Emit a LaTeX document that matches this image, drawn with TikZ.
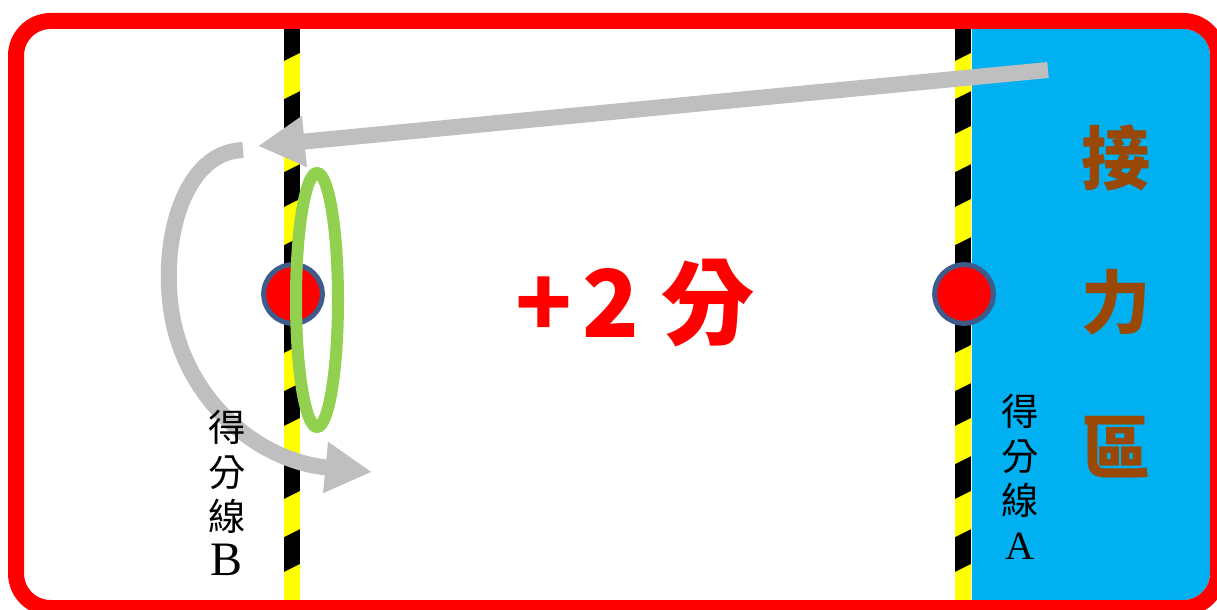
\documentclass[tikz,border=0pt]{standalone}
\usepackage{fontspec}
\newfontfamily\cjk{Noto Sans CJK TC}
\newfontfamily\latinserif{Liberation Serif}
\usetikzlibrary{arrows.meta,shapes.geometric}
\definecolor{relayblue}{RGB}{0,176,240}
\definecolor{relaybrown}{RGB}{153,72,6}
\definecolor{pathgray}{RGB}{191,191,191}
\definecolor{ringgreen}{RGB}{146,208,80}
\definecolor{dotedge}{RGB}{61,92,140}
\definecolor{stripeyellow}{RGB}{255,255,0}
\tikzset{
  frame/.style={draw=red, line width=12pt, rounded corners=26pt},
  dotmark/.style={circle, inner sep=0pt, minimum size=44pt, fill=red, draw=dotedge, line width=3.75pt},
  ring/.style={ellipse, inner sep=0pt, minimum width=31.5pt, minimum height=190.5pt, draw=ringgreen, line width=9pt},
  movearrow/.style={draw=pathgray, line width=12pt, -{Triangle[width=36pt,length=35pt]}},
  scoretext/.style={text=red, font=\cjk\bfseries\fontsize{70}{80}\selectfont, inner sep=0pt},
  zonetext/.style={text=relaybrown, font=\cjk\bfseries\fontsize{52}{60}\selectfont, inner sep=0pt},
  linelabel/.style={text=black, align=center, inner sep=0pt, font=\cjk\fontsize{28}{33.5}\selectfont},
}
\newcommand{\stripeline}[1]{%
  \begin{scope}
    \clip (#1,29) rectangle ({#1+16},600);
    \fill[black] (#1,29) rectangle ({#1+16},600);
    \foreach \yy in {53,126,...,620}
      \fill[stripeyellow] (#1,\yy+8) -- ({#1+16},\yy) -- ({#1+16},\yy+38) -- (#1,\yy+46) -- cycle;
  \end{scope}}
\begin{document}
\begin{tikzpicture}[x=0.75pt,y=-0.75pt]
\useasboundingbox (0,0) rectangle (1217,610);
\fill[white] (0,0) rectangle (1217,610);
% relay zone
\begin{scope}
  \clip (972,0) rectangle (1217,610);
  \fill[relayblue, rounded corners=20pt] (900,29) rectangle (1210,600);
\end{scope}
% score lines
\stripeline{284}
\stripeline{955}
% frame
\draw[frame] (16,21) rectangle (1218,608);
% dots
\node[dotmark] (dotB) at (293,294) {};
\node[dotmark] (dotA) at (964,294) {};
% ring
\node[ring] (ring) at (317,300) {};
% arrows
\coordinate (tailT) at (1048,70);
\coordinate (tipT) at (258,146);
\draw[movearrow] (tailT) -- (tipT);
\coordinate (tailC) at (243,150);
\coordinate (tipC) at (372,472);
\draw[movearrow] (tailC) .. controls (185,152) and (163,235) .. (170,300)
  .. controls (178,390) and (250,460) .. (tipC);
% texts
\node[scoretext] (score) at (635,303) {+\kern8pt2 分};
\node[zonetext] (z1) at (1116,158) {接};
\node[zonetext] (z2) at (1116,302) {力};
\node[zonetext] (z3) at (1116,447) {區};
\node[linelabel, anchor=north] (labelB) at (227,410) {得\\分\\線\\{\latinserif\fontsize{36}{33.5}\selectfont B}};
\node[linelabel, anchor=north] (labelA) at (1020,394) {得\\分\\線\\{\latinserif\fontsize{30}{33.5}\selectfont A}};
\end{tikzpicture}
\end{document}
